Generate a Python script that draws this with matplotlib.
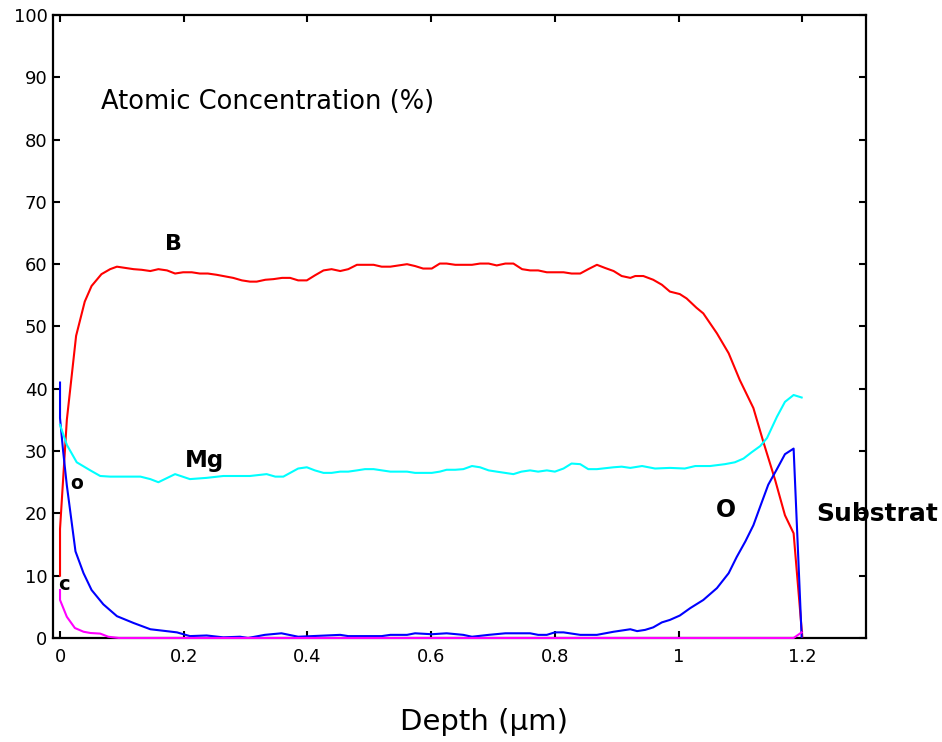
import matplotlib
matplotlib.use("Agg")
import matplotlib.pyplot as plt

# depth profile data (depth in um, atomic %)
b_depth = [0.0, 0.0, 0.011, 0.026, 0.040, 0.051, 0.067, 0.081, 0.092, 0.119,
           0.132, 0.146, 0.159, 0.173, 0.186, 0.199, 0.213, 0.226, 0.239, 0.253,
           0.280, 0.294, 0.307, 0.318, 0.332, 0.345, 0.359, 0.372, 0.385, 0.399,
           0.412, 0.426, 0.439, 0.453, 0.466, 0.480, 0.507, 0.520, 0.534, 0.561,
           0.574, 0.587, 0.601, 0.614, 0.625, 0.639, 0.666, 0.679, 0.693, 0.706,
           0.720, 0.733, 0.747, 0.760, 0.773, 0.787, 0.814, 0.827, 0.841, 0.854,
           0.868, 0.881, 0.895, 0.908, 0.922, 0.930, 0.943, 0.959, 0.973, 0.986,
           1.002, 1.013, 1.029, 1.040, 1.062, 1.081, 1.099, 1.121, 1.137, 1.156,
           1.172, 1.186, 1.200]
b_val = [10, 17.5, 35, 48.5, 54, 56.5, 58.4, 59.2, 59.6, 59.2,
         59.1, 58.9, 59.2, 59.0, 58.5, 58.7, 58.7, 58.5, 58.5, 58.3,
         57.8, 57.4, 57.2, 57.2, 57.5, 57.6, 57.8, 57.8, 57.4, 57.4,
         58.2, 59.0, 59.2, 58.9, 59.2, 59.9, 59.9, 59.6, 59.6, 60.0,
         59.7, 59.3, 59.3, 60.1, 60.1, 59.9, 59.9, 60.1, 60.1, 59.8,
         60.1, 60.1, 59.2, 59.0, 59.0, 58.7, 58.7, 58.5, 58.5, 59.2,
         59.9, 59.4, 58.9, 58.1, 57.8, 58.1, 58.1, 57.5, 56.7, 55.6,
         55.2, 54.5, 53.0, 52.1, 48.9, 45.7, 41.4, 36.9, 31.5, 25.4,
         19.7, 16.8, 0.2]

mg_depth = [0.0, 0.011, 0.027, 0.049, 0.065, 0.081, 0.130, 0.146, 0.159, 0.186,
            0.210, 0.237, 0.264, 0.307, 0.334, 0.348, 0.361, 0.385, 0.399, 0.412,
            0.426, 0.439, 0.453, 0.466, 0.480, 0.493, 0.507, 0.534, 0.561, 0.574,
            0.601, 0.614, 0.625, 0.639, 0.652, 0.666, 0.679, 0.693, 0.706, 0.733,
            0.746, 0.760, 0.773, 0.787, 0.800, 0.814, 0.827, 0.841, 0.854, 0.868,
            0.895, 0.908, 0.922, 0.941, 0.962, 0.986, 1.010, 1.027, 1.051, 1.075,
            1.091, 1.105, 1.118, 1.132, 1.143, 1.159, 1.172, 1.186, 1.199]
mg_val = [34.2, 31.0, 28.2, 26.9, 26.0, 25.9, 25.9, 25.5, 25.0, 26.3,
          25.5, 25.7, 26.0, 26.0, 26.3, 25.9, 25.9, 27.2, 27.4, 26.9,
          26.5, 26.5, 26.7, 26.7, 26.9, 27.1, 27.1, 26.7, 26.7, 26.5,
          26.5, 26.7, 27.0, 27.0, 27.1, 27.6, 27.4, 26.9, 26.7, 26.3,
          26.7, 26.9, 26.7, 26.9, 26.7, 27.2, 28.0, 27.9, 27.1, 27.1,
          27.4, 27.5, 27.3, 27.6, 27.2, 27.3, 27.2, 27.6, 27.6, 27.9,
          28.2, 28.8, 29.8, 30.8, 32.1, 35.5, 37.9, 39.0, 38.6]

o_depth = [0.0, 0.0, 0.005, 0.011, 0.025, 0.038, 0.051, 0.070, 0.092, 0.119,
           0.146, 0.172, 0.189, 0.210, 0.237, 0.264, 0.291, 0.304, 0.331, 0.358,
           0.385, 0.453, 0.466, 0.520, 0.534, 0.561, 0.574, 0.601, 0.625, 0.652,
           0.666, 0.693, 0.720, 0.760, 0.773, 0.787, 0.800, 0.814, 0.841, 0.868,
           0.895, 0.922, 0.933, 0.946, 0.959, 0.973, 0.986, 1.002, 1.019, 1.040,
           1.062, 1.081, 1.094, 1.108, 1.121, 1.132, 1.145, 1.159, 1.172, 1.186,
           1.199]
o_val = [41.0, 35.3, 30.0, 24.5, 13.9, 10.4, 7.7, 5.4, 3.5, 2.4,
         1.4, 1.1, 0.9, 0.3, 0.4, 0.1, 0.2, 0.0, 0.5, 0.75,
         0.2, 0.5, 0.3, 0.3, 0.5, 0.5, 0.75, 0.6, 0.75, 0.5,
         0.2, 0.5, 0.75, 0.75, 0.5, 0.5, 0.9, 0.9, 0.5, 0.5,
         1.0, 1.4, 1.1, 1.3, 1.7, 2.5, 2.9, 3.6, 4.8, 6.1,
         8.0, 10.4, 13.0, 15.5, 18.1, 21.1, 24.6, 27.1, 29.5, 30.4,
         0.2]

c_depth = [0.0, 0.0, 0.011, 0.024, 0.038, 0.049, 0.065, 0.078, 0.095, 1.186, 1.199]
c_val = [7.7, 6.1, 3.4, 1.6, 1.0, 0.8, 0.7, 0.2, 0.0, 0.0, 0.9]

x_ticks = [0, 0.2, 0.4, 0.6, 0.8, 1.0, 1.2]
x_labels = ["0", "0.2", "0.4", "0.6", "0.8", "1", "1.2"]
y_ticks = list(range(0, 101, 10))

fig = plt.figure(figsize=(9.42, 7.42), dpi=100)
ax = fig.add_axes([0.0563, 0.1402, 0.863, 0.8396])

ax.plot(b_depth, b_val, color="#ff0000", lw=1.5, zorder=3)
ax.plot(o_depth, o_val, color="#0000ff", lw=1.5, zorder=3)
ax.plot(mg_depth, mg_val, color="#00ffff", lw=1.5, zorder=3)
# carbon sits on the zero line, let it show over the spine
ax.plot(c_depth, c_val, color="#ff00ff", lw=1.5, zorder=3, clip_on=False)

ax.set_xlim(-0.0113, 1.303)
ax.set_ylim(0, 100)
ax.set_xticks(x_ticks)
ax.set_xticklabels(x_labels)
ax.set_yticks(y_ticks)
ax.tick_params(direction="in", top=True, right=True, length=5, width=1.5,
               labelsize=13)
ax.tick_params(axis="y", pad=4)
ax.tick_params(axis="x", pad=7)
for sp in ax.spines.values():
    sp.set_linewidth(1.6)

ax.set_xlabel("Depth (\u03bcm)", fontsize=21)
ax.xaxis.set_label_coords(0.530, -0.135)
ax.xaxis.label.set_va("center")

ax.text(0.3355, 84.9, "Atomic Concentration (%)", fontsize=18.5,
        ha="center", va="baseline")
ax.text(0.1827, 63.3, "B", fontsize=16, fontweight="bold", ha="center", va="center")
ax.text(0.2328, 27.45, "Mg", fontsize=16.5, fontweight="bold", ha="center", va="baseline")
ax.text(0.027, 23.9, "o", fontsize=13.5, fontweight="bold", ha="center", va="baseline")
ax.text(0.006, 7.7, "c", fontsize=14, fontweight="bold", ha="center", va="baseline")
ax.text(1.0773, 19.4, "O", fontsize=17, fontweight="bold", ha="center", va="baseline")
ax.text(1.2223, 18.8, "Substrat", fontsize=18, fontweight="bold", ha="left",
        va="baseline", clip_on=False, zorder=5)

fig.savefig("out.png", dpi=100)
